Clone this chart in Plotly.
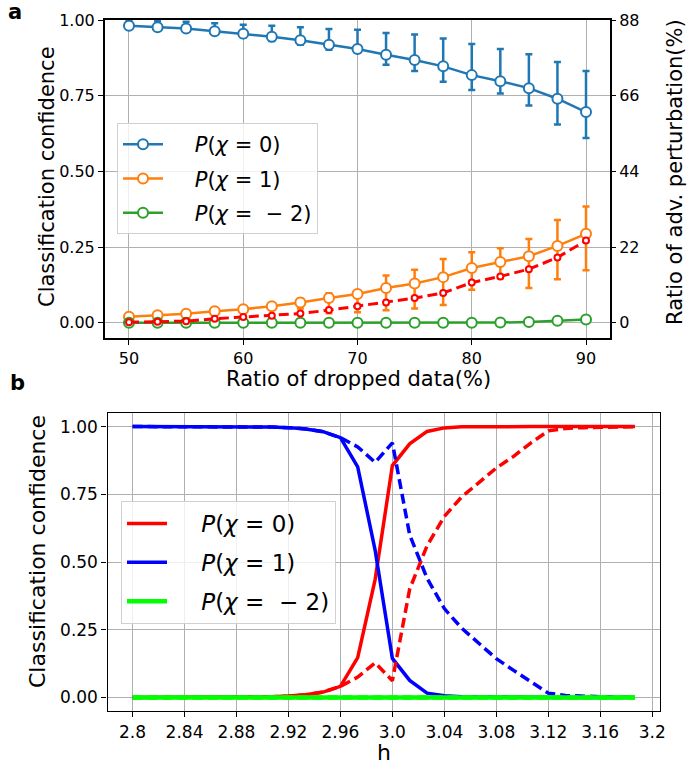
import plotly.graph_objects as go

# ---------------- Panel a data ----------------
drop_ratio = [50, 52.5, 55, 57.5, 60, 62.5, 65, 67.5, 70, 72.5, 75, 77.5, 80, 82.5, 85, 87.5, 90]
p0_mean = [0.981, 0.976, 0.972, 0.963, 0.955, 0.945, 0.933, 0.918, 0.904, 0.885, 0.868, 0.847, 0.818, 0.798, 0.775, 0.740, 0.696]
p0_err_up = [0.020, 0.020, 0.022, 0.026, 0.029, 0.036, 0.043, 0.052, 0.064, 0.072, 0.084, 0.092, 0.103, 0.106, 0.112, 0.121, 0.136]
p0_err_dn = [0.005, 0.008, 0.010, 0.012, 0.013, 0.014, 0.015, 0.016, 0.012, 0.033, 0.036, 0.051, 0.049, 0.041, 0.057, 0.085, 0.086]
p1_mean = [0.020, 0.025, 0.030, 0.038, 0.045, 0.055, 0.067, 0.082, 0.095, 0.115, 0.130, 0.151, 0.181, 0.201, 0.220, 0.254, 0.294]
p1_err_up = [0.004, 0.005, 0.006, 0.007, 0.008, 0.010, 0.013, 0.016, 0.012, 0.041, 0.045, 0.060, 0.052, 0.045, 0.057, 0.086, 0.090]
p1_err_dn = [0.004, 0.005, 0.006, 0.008, 0.010, 0.012, 0.020, 0.050, 0.060, 0.073, 0.083, 0.092, 0.072, 0.054, 0.105, 0.110, 0.120]
pm2_mean = [0, 0, 0, 0, 0, 0, 0, 0, 0, 0, 0, 0, 0, 0.001, 0.003, 0.007, 0.011]
pm2_err = [0.001, 0.001, 0.001, 0.001, 0.001, 0.001, 0.001, 0.001, 0.001, 0.001, 0.001, 0.001, 0.001, 0.002, 0.003, 0.004, 0.005]
adv_pert = [0.2, 0.3, 0.5, 1.2, 1.7, 2.1, 2.7, 3.7, 4.8, 5.9, 7.2, 8.7, 11.7, 13.5, 15.6, 19.0, 23.9]

top_xticks = [50, 60, 70, 80, 90]
top_yticks = [0.0, 0.25, 0.5, 0.75, 1.0]
top_yticklabels = ["0.00", "0.25", "0.50", "0.75", "1.00"]
right_yticks = [0, 22, 44, 66, 88]

# ---------------- Panel b data ----------------
h_vals = [2.8, 2.8133, 2.8267, 2.84, 2.8533, 2.8667, 2.88, 2.8933, 2.9067, 2.92,
          2.9333, 2.9467, 2.96, 2.9733, 2.9867, 3.0, 3.0133, 3.0267, 3.04, 3.0533,
          3.0667, 3.08, 3.0933, 3.1067, 3.12, 3.1333, 3.1467, 3.16, 3.1733, 3.1867]
red_solid = [0, 0, 0, 0, 0, 0, 0.001, 0.002, 0.003, 0.005,
             0.010, 0.020, 0.041, 0.147, 0.435, 0.856, 0.936, 0.982, 0.995, 0.999,
             1, 1, 1, 1, 1, 1, 1, 1, 1, 1]
blue_solid = [1, 1, 1, 1, 1, 1, 1, 0.999, 0.998, 0.996,
              0.991, 0.981, 0.959, 0.851, 0.544, 0.144, 0.063, 0.016, 0.006, 0.003,
              0.002, 0.001, 0.001, 0, 0, 0, 0, 0, 0, 0]
green_solid = [0] * 30
red_dashed = [0, 0, 0, 0, 0, 0, 0.001, 0.002, 0.003, 0.005,
              0.010, 0.020, 0.041, 0.075, 0.128, 0.062, 0.400, 0.560, 0.668, 0.740,
              0.795, 0.847, 0.890, 0.940, 0.984, 0.993, 0.996, 0.998, 0.999, 0.999]
blue_dashed = [1, 1, 1, 1, 1, 1, 1, 0.999, 0.998, 0.996,
               0.991, 0.981, 0.959, 0.925, 0.868, 0.940, 0.600, 0.440, 0.328, 0.256,
               0.199, 0.143, 0.100, 0.057, 0.016, 0.007, 0.004, 0.002, 0.001, 0.001]
green_dashed = [0] * 30

bot_xticks = [2.8, 2.84, 2.88, 2.92, 2.96, 3.0, 3.04, 3.08, 3.12, 3.16, 3.2]
bot_xticklabels = ["2.8", "2.84", "2.88", "2.92", "2.96", "3.0", "3.04", "3.08", "3.12", "3.16", "3.2"]

PAD = "\u00a0" * 4
lab0 = PAD + "<i>P</i>(<i>χ</i> = 0)"
lab1 = PAD + "<i>P</i>(<i>χ</i> = 1)"
labm2 = PAD + "<i>P</i>(<i>χ</i> =\u00a0\u00a0− 2)"

W, H = 690, 766
FONT = "DejaVu Sans"
GRID = "#b0b0b0"

def px_x(p):
    return p / W

def px_y(p):
    return 1 - p / H

fig = go.Figure()

tab_blue, tab_orange, tab_green = "#1f77b4", "#ff7f0e", "#2ca02c"

for name, y, up, dn, col, grp in [
    (lab0, p0_mean, p0_err_up, p0_err_dn, tab_blue, "a0"),
    (lab1, p1_mean, p1_err_up, p1_err_dn, tab_orange, "a1"),
    (labm2, pm2_mean, pm2_err, pm2_err, tab_green, "a2"),
]:
    fig.add_trace(go.Scatter(
        x=drop_ratio, y=y, name=name, mode="lines+markers",
        xaxis="x", yaxis="y", legend="legend", legendgroup=grp,
        line=dict(color=col, width=2.5),
        marker=dict(symbol="circle", size=10, color="white", line=dict(color=col, width=2)),
        error_y=dict(type="data", symmetric=False, array=up, arrayminus=dn,
                     color=col, thickness=2.5, width=3.5),
    ))

fig.add_trace(go.Scatter(
    x=drop_ratio, y=adv_pert, mode="lines+markers", showlegend=False,
    xaxis="x", yaxis="y3",
    line=dict(color="red", width=3, dash="10px,5px"),
    marker=dict(symbol="circle", size=6, color="white", line=dict(color="red", width=2)),
))

# Panel b
for y, col, dash, show, name, grp in [
    (red_solid, "#ff0000", "solid", True, lab0, "b0"),
    (blue_solid, "#0000ff", "solid", True, lab1, "b1"),
    (red_dashed, "#ff0000", "10px,5px", False, None, "b0"),
    (blue_dashed, "#0000ff", "10px,5px", False, None, "b1"),
    (green_solid, "#00ff00", "solid", True, labm2, "b2"),
    (green_dashed, "#00ff00", "10px,5px", False, None, "b2"),
]:
    fig.add_trace(go.Scatter(
        x=h_vals, y=y, mode="lines", name=name, showlegend=show,
        xaxis="x2", yaxis="y2", legend="legend2", legendgroup=grp,
        line=dict(color=col, width=3.5 if col != "#00ff00" else 4.5, dash=dash),
    ))

axis_common = dict(showline=True, linecolor="black", mirror=True, ticks="outside",
                   tickcolor="black", tickwidth=1.2, ticklen=5, gridcolor=GRID,
                   gridwidth=1, zeroline=False, automargin=False,
                   tickfont=dict(family=FONT, size=16, color="black"))

fig.update_layout(
    width=W, height=H, margin=dict(l=0, r=0, t=0, b=0),
    paper_bgcolor="white", plot_bgcolor="white",
    font=dict(family=FONT, color="black"),
    xaxis=dict(domain=[px_x(105), px_x(610)], anchor="y", range=[47.9, 92.1],
               tickvals=top_xticks, linewidth=2, **axis_common),
    yaxis=dict(domain=[px_y(338), px_y(20)], anchor="x", range=[-0.05, 1.0],
               tickvals=top_yticks, ticktext=top_yticklabels, linewidth=2, **axis_common),
    yaxis3=dict(overlaying="y", side="right", anchor="x", range=[-4.4, 88],
                tickvals=right_yticks, showgrid=False, showline=False, zeroline=False,
                ticks="outside", tickcolor="black", ticklen=5, tickwidth=1.2, automargin=False,
                tickfont=dict(family=FONT, size=16, color="black")),
    xaxis2=dict(domain=[px_x(107.5), px_x(660)], anchor="y2", range=[2.7807, 3.206],
                tickvals=bot_xticks, ticktext=bot_xticklabels, linewidth=1.3,
                **{**axis_common, "tickfont": dict(family=FONT, size=17, color="black")}),
    yaxis2=dict(domain=[px_y(711), px_y(413)], anchor="x2", range=[-0.05, 1.05],
                tickvals=top_yticks, ticktext=top_yticklabels, linewidth=1.3,
                **{**axis_common, "tickfont": dict(family=FONT, size=17, color="black")}),
    legend=dict(x=px_x(117), y=px_y(123), xanchor="left", yanchor="top",
                bgcolor="rgba(255,255,255,0.8)", bordercolor="#d0d0d0", borderwidth=1,
                font=dict(family=FONT, size=21, color="black"), tracegroupgap=4,
                itemwidth=40),
    legend2=dict(x=px_x(121), y=px_y(501), xanchor="left", yanchor="top",
                 bgcolor="rgba(255,255,255,0.8)", bordercolor="#d0d0d0", borderwidth=1,
                 font=dict(family=FONT, size=23, color="black"), tracegroupgap=6,
                 itemwidth=40),
)

ann = [
    dict(text="<b>a</b>", x=px_x(15), y=px_y(12), font=dict(size=21)),
    dict(text="<b>b</b>", x=px_x(17), y=px_y(383), font=dict(size=21)),
    dict(text="Classification confidence", x=px_x(47), y=px_y(177), textangle=-90, font=dict(size=21)),
    dict(text="Ratio of adv. perturbation(%)", x=px_x(675), y=px_y(172), textangle=-90, font=dict(size=21)),
    dict(text="Ratio of dropped data(%)", x=px_x(358), y=px_y(379), font=dict(size=21)),
    dict(text="Classification confidence", x=px_x(37), y=px_y(552), textangle=-90, font=dict(size=22)),
    dict(text="h", x=px_x(384), y=px_y(752), font=dict(size=22)),
]
for a in ann:
    fig.add_annotation(xref="paper", yref="paper", showarrow=False, xanchor="center", yanchor="middle",
                       text=a["text"], x=a["x"], y=a["y"], textangle=a.get("textangle", 0),
                       font=dict(family=FONT, color="black", size=a["font"]["size"]))

fig.write_html("out.html", config={"displayModeBar": False},
               post_script="document.body.style.margin='0';document.body.style.padding='0';document.body.style.overflow='hidden';")
